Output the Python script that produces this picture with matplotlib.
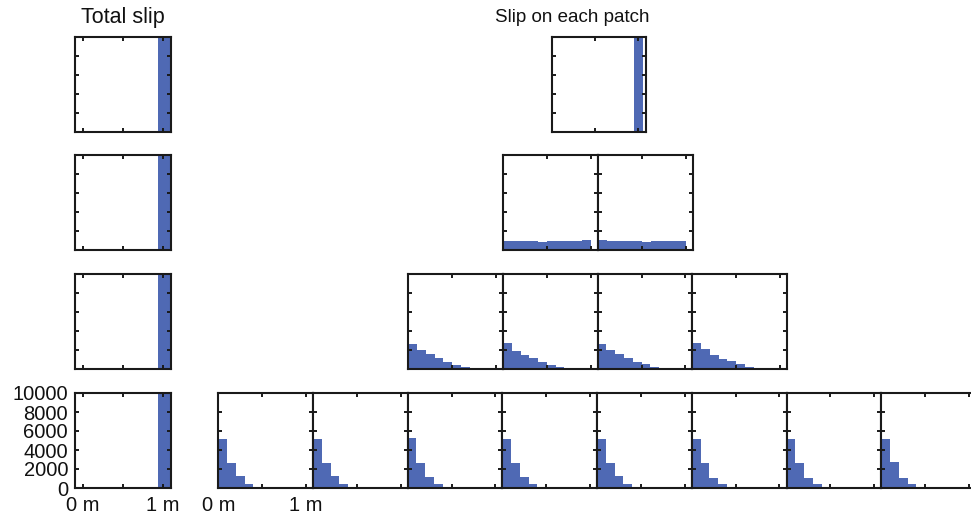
import matplotlib
matplotlib.use("Agg")
import matplotlib.pyplot as plt

plt.rcParams['font.family'] = ['Liberation Sans', 'DejaVu Sans']

# ---------------- data ----------------
total_slip_counts = [10000, 10000, 10000, 10000]   # one bar at ~1 m for every row
total_bin_left = 0.94
total_bin_width = 0.15

row1_patches = [[10000]]
row1_bin_left = 0.955
row1_bin_width = 0.11

row2_patches = [
    [950, 950, 950, 950, 850, 950, 950, 950, 950, 1050],
    [1050, 950, 950, 950, 950, 850, 950, 950, 950, 950],
]
row3_patches = [
    [2580, 2050, 1625, 1200, 777, 460, 212, 35],
    [2720, 1940, 1520, 1200, 777, 460, 212, 35],
    [2580, 2050, 1625, 1200, 777, 565, 247, 35],
    [2720, 2155, 1520, 1095, 813, 530, 247, 35],
]
row4_patches = [
    [5140, 2590, 1240, 460, 70],
    [5140, 2590, 1240, 460, 70],
    [5280, 2590, 1135, 460, 140],
    [5140, 2590, 1135, 460, 70],
    [5140, 2590, 1240, 460, 70],
    [5140, 2590, 1100, 460, 140],
    [5140, 2590, 1100, 460, 70],
    [5140, 2700, 1100, 460, 70],
]
bin_width = 0.1

x_ticks = [0, 0.5, 1]
x_ticklabels = ['0 m', '', '1 m']
y_ticks = [0, 2000, 4000, 6000, 8000, 10000]
y_ticklabels = ['0', '2000', '4000', '6000', '8000', '10000']

# ---------------- layout ----------------
W, H = 971, 516
fig = plt.figure(figsize=(W / 100, H / 100), dpi=100)

BLUE = '#4f69b4'
EDGE = '#1a1a1a'
TXT = '#111111'
row_tops = [37, 155, 274, 393]
ph = 95
pw = 94.7


def make_ax(x0, ytop, w, xlim):
    ax = fig.add_axes([x0 / W, (H - ytop - ph) / H, w / W, ph / H])
    ax.set_xlim(*xlim)
    ax.set_ylim(0, 10000)
    ax.set_xticks(x_ticks)
    ax.set_yticks(y_ticks)
    ax.set_xticklabels([])
    ax.set_yticklabels([])
    ax.tick_params(direction='in', length=2.8, width=1.4, color=EDGE,
                   top=True, right=True, labelsize=14.5, labelcolor=TXT)
    ax.tick_params(axis='x', pad=6)
    ax.tick_params(axis='y', pad=5)
    for s in ax.spines.values():
        s.set_linewidth(1.5)
        s.set_color(EDGE)
    ax.patch.set_facecolor('white')
    return ax


def draw_hist(ax, counts, left0, width):
    lefts = [left0 + i * width for i in range(len(counts))]
    ax.bar(lefts, counts, width=width, align='edge', color=BLUE,
           edgecolor='none', linewidth=0)


# total slip column
for r, top in enumerate(row_tops):
    ax = make_ax(75, top, 96, (-0.1, 1.1))
    ax.bar([total_bin_left], [total_slip_counts[r]], width=total_bin_width,
           align='edge', color=BLUE, edgecolor='none')
    if r == 3:
        ax.set_xticklabels(x_ticklabels)
        ax.set_yticklabels(y_ticklabels)

# patches
patch_xlim = (0, 1.08)
# row 1
ax = make_ax(551.7, row_tops[0], 94.5, (0, 1.1))
draw_hist(ax, row1_patches[0], row1_bin_left, row1_bin_width)
# row 2
for i, c in enumerate(row2_patches):
    ax = make_ax(503.3 + i * pw, row_tops[1], pw, patch_xlim)
    draw_hist(ax, c, 0, bin_width)
# row 3
for i, c in enumerate(row3_patches):
    ax = make_ax(408.3 + i * pw, row_tops[2], pw, patch_xlim)
    draw_hist(ax, c, 0, bin_width)
# row 4
for i, c in enumerate(row4_patches):
    ax = make_ax(218.3 + i * pw, row_tops[3], pw, patch_xlim)
    draw_hist(ax, c, 0, bin_width)
    if i == 0:
        ax.set_xticklabels(x_ticklabels)

fig.text(123 / W, 1 - 18 / H, 'Total slip', ha='center', va='center',
         fontsize=15.5, color=TXT)
fig.text(572 / W, 1 - 18 / H, 'Slip on each patch', ha='center',
         va='center', fontsize=13.5, color=TXT)

fig.savefig('out.png', dpi=100)
